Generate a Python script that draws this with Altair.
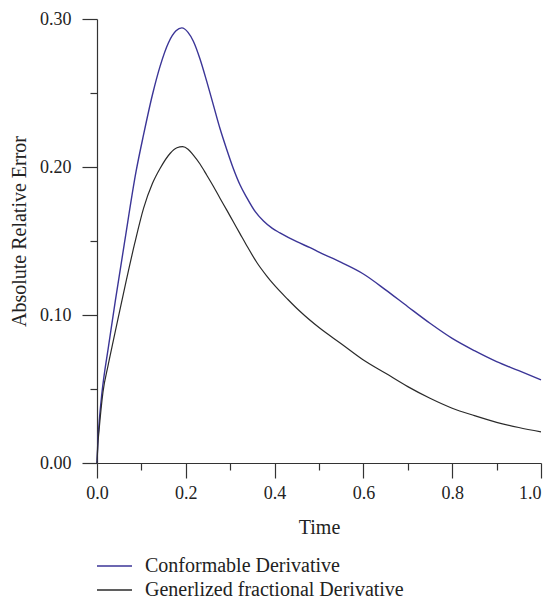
import altair as alt
import pandas as pd

# Conformable Derivative (blue)
t_conf = [0, 0.002, 0.005, 0.011, 0.026, 0.041, 0.062, 0.088, 0.105, 0.125, 0.142,
          0.161, 0.178, 0.191, 0.205, 0.217, 0.232, 0.247, 0.262, 0.277, 0.292,
          0.307, 0.322, 0.337, 0.356, 0.375, 0.395, 0.412, 0.45, 0.48, 0.5, 0.55,
          0.6, 0.65, 0.7, 0.75, 0.8, 0.85, 0.9, 0.95, 1.0]
e_conf = [0, 0.015, 0.028, 0.047, 0.079, 0.109, 0.149, 0.197, 0.222, 0.249, 0.268,
          0.284, 0.292, 0.294, 0.291, 0.285, 0.273, 0.258, 0.242, 0.226, 0.212,
          0.199, 0.188, 0.1795, 0.1700, 0.1635, 0.1585, 0.1555, 0.1495, 0.1455, 0.1425, 0.1355,
          0.1277, 0.117, 0.1056, 0.0944, 0.0842, 0.0759, 0.0685, 0.0624, 0.0561]

# Generlized fractional Derivative (black)
t_gen = [0, 0.002, 0.004, 0.0135, 0.025, 0.037, 0.047, 0.065, 0.085, 0.105, 0.125,
         0.142, 0.165, 0.18, 0.193, 0.205, 0.217, 0.232, 0.247, 0.262, 0.277, 0.292,
         0.307, 0.322, 0.337, 0.36, 0.382, 0.397, 0.43, 0.457, 0.5, 0.55, 0.6, 0.65,
         0.7, 0.75, 0.8, 0.85, 0.9, 0.95, 1.0]
e_gen = [0, 0.013, 0.020, 0.048, 0.066, 0.083, 0.097, 0.122, 0.1485, 0.1722, 0.189,
         0.199, 0.2093, 0.213, 0.2137, 0.212, 0.208, 0.202, 0.1946, 0.187, 0.1789, 0.171,
         0.163, 0.155, 0.147, 0.1355, 0.1265, 0.121, 0.1105, 0.1025, 0.0915, 0.0806, 0.0696, 0.0606,
         0.0516, 0.0437, 0.037, 0.032, 0.0275, 0.024, 0.021]

series = ["Conformable Derivative", "Generlized fractional Derivative"]
colors = ["#3b3597", "#2a2a2a"]

x_major = [0.0, 0.2, 0.4, 0.6, 0.8, 1.0]
x_minor = [0.1, 0.3, 0.5, 0.7, 0.9]
y_major = [0.0, 0.1, 0.2, 0.3]
y_minor = [0.05, 0.15, 0.25]

df = pd.concat([
    pd.DataFrame({"t": t_conf, "e": e_conf, "s": series[0]}),
    pd.DataFrame({"t": t_gen, "e": e_gen, "s": series[1]}),
])

FONT = "Liberation Serif"
AX = "#333333"

xscale = alt.Scale(domain=[0, 1], nice=False, zero=False)
yscale = alt.Scale(domain=[0, 0.3], nice=False, zero=False)
cscale = alt.Scale(domain=series, range=colors)

legend = alt.Legend(
    title=None, orient="none", legendX=7.5, legendY=537,
    symbolType="M-3,0H3", symbolSize=136, symbolStrokeWidth=1.4,
    symbolFillColor="transparent", labelOffset=20.5, rowPadding=4,
    labelFont=FONT, labelFontSize=20, labelColor="#222222", padding=0,
    labelLimit=0,
)

major = alt.Chart(df).transform_filter(alt.datum.s == series[0]).mark_line(
    interpolate="monotone", strokeWidth=1.4
).encode(
    x=alt.X("t:Q", scale=xscale, axis=alt.Axis(
        values=x_major, format=".1f", tickSize=15, labelPadding=6, labelFlush=False,
        labelAlign={"condition": {"test": "datum.value >= 1", "value": "right"},
                    "value": "center"},
        title="Time", titleX=222, titleY=70, titleBaseline="alphabetic",
        titleAlign="center")),
    y=alt.Y("e:Q", scale=yscale, axis=alt.Axis(
        values=y_major, format=".2f", tickSize=15, labelPadding=11, labelFlush=False,
        title="Absolute Relative Error", titleX=-72, titleY=212,
        titleBaseline="alphabetic", titleAlign="center", titleAngle=270)),
    color=alt.Color("s:N", scale=cscale, legend=legend),
)

minor = alt.Chart(df).transform_filter(alt.datum.s == series[1]).mark_line(
    interpolate="monotone", strokeWidth=1.2
).encode(
    x=alt.X("t:Q", scale=xscale, axis=alt.Axis(
        values=x_minor, tickSize=7, labels=False, domain=False, title=None,
        orient="bottom")),
    y=alt.Y("e:Q", scale=yscale, axis=alt.Axis(
        values=y_minor, tickSize=7, labels=False, domain=False, title=None,
        orient="left")),
    color=alt.Color("s:N", scale=cscale, legend=legend),
)

chart = alt.layer(major, minor).resolve_axis(x="independent", y="independent").properties(
    width=444, height=444,
    autosize=alt.AutoSizeParams(type="none"),
    padding={"left": 89, "top": 11, "right": 4, "bottom": 140},
).configure_view(stroke=None).configure_axis(
    grid=False, domainColor=AX, tickColor=AX, domainWidth=1.2, tickWidth=1.2,
    labelFont=FONT, labelFontSize=18, labelColor="#222222",
    titleFont=FONT, titleFontSize=20, titleFontWeight="normal", titleColor="#222222",
)

chart.save("out.html", embed_options={"renderer": "svg", "actions": False})
